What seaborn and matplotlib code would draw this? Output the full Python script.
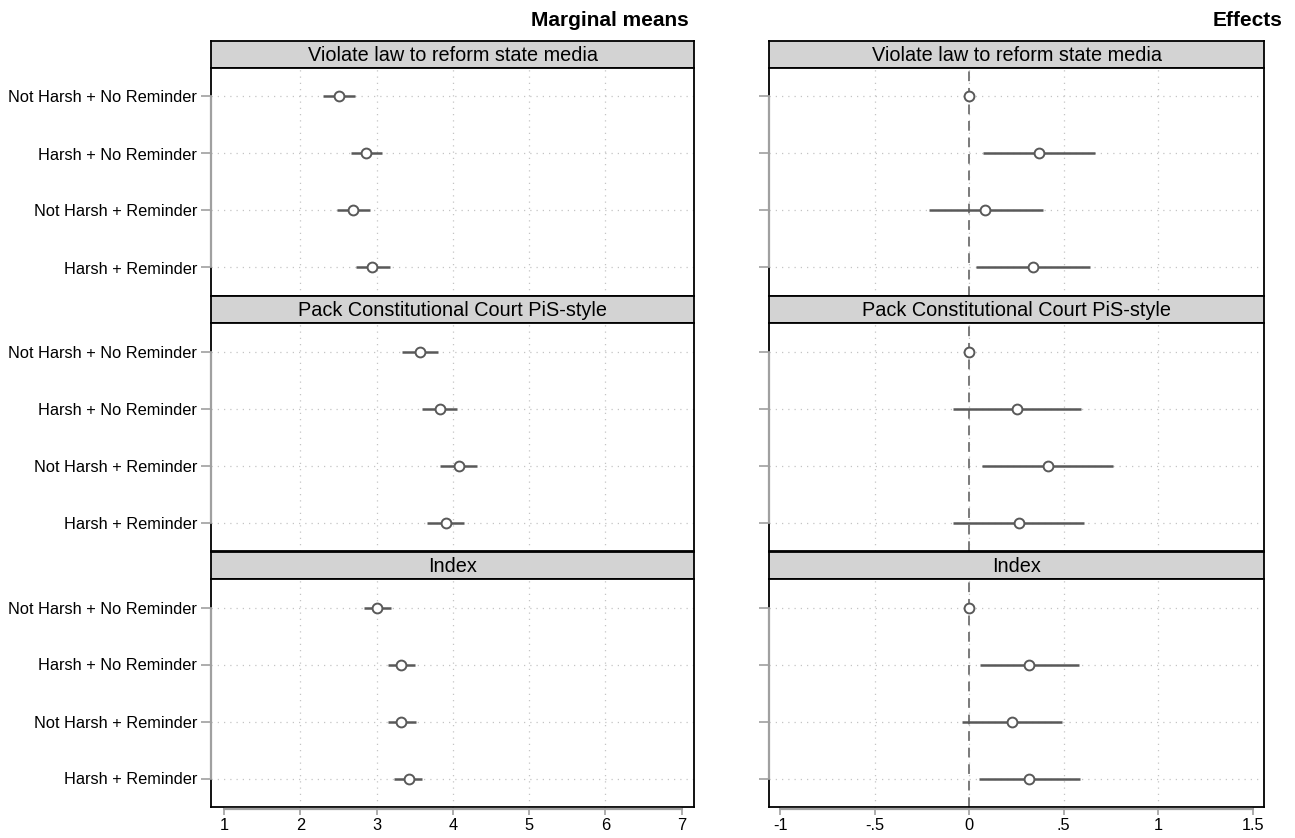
import matplotlib
matplotlib.use("Agg")
import matplotlib.pyplot as plt
import matplotlib.transforms as mtransforms
import seaborn as sns
import pandas as pd
import numpy as np

sns.set_theme(style="white")
plt.rcParams['font.family'] = ['Liberation Sans', 'DejaVu Sans']
plt.rcParams['text.color'] = 'black'
plt.rcParams['xtick.labelcolor'] = 'black'
plt.rcParams['ytick.labelcolor'] = 'black'

categories = ["Not Harsh + No Reminder", "Harsh + No Reminder",
              "Not Harsh + Reminder", "Harsh + Reminder"]
outcomes = ["Violate law to reform state media",
            "Pack Constitutional Court PiS-style", "Index"]

# Marginal means (estimate, lower CI, upper CI) per outcome
mm_media = [2.51, 2.86, 2.69, 2.94]
mm_media_lo = [2.30, 2.66, 2.48, 2.73]
mm_media_hi = [2.72, 3.07, 2.91, 3.17]
mm_court = [3.57, 3.83, 4.08, 3.91]
mm_court_lo = [3.33, 3.60, 3.83, 3.66]
mm_court_hi = [3.81, 4.06, 4.32, 4.15]
mm_index = [3.00, 3.32, 3.32, 3.42]
mm_index_lo = [2.83, 3.15, 3.15, 3.23]
mm_index_hi = [3.19, 3.51, 3.52, 3.60]

# Effects (estimate, lower CI, upper CI) relative to Not Harsh + No Reminder
ef_media = [0.0, 0.369, 0.085, 0.335]
ef_media_lo = [0.0, 0.072, -0.213, 0.034]
ef_media_hi = [0.0, 0.663, 0.388, 0.640]
ef_court = [0.0, 0.254, 0.415, 0.261]
ef_court_lo = [0.0, -0.085, 0.067, -0.086]
ef_court_hi = [0.0, 0.593, 0.762, 0.605]
ef_index = [0.0, 0.317, 0.228, 0.314]
ef_index_lo = [0.0, 0.057, -0.039, 0.050]
ef_index_hi = [0.0, 0.579, 0.492, 0.587]

mm_ticks = [1, 2, 3, 4, 5, 6, 7]
mm_ticklabels = ["1", "2", "3", "4", "5", "6", "7"]
ef_ticks = [-1, -0.5, 0, 0.5, 1, 1.5]
ef_ticklabels = ["-1", "-.5", "0", ".5", "1", "1.5"]

mm_data = [(mm_media, mm_media_lo, mm_media_hi),
           (mm_court, mm_court_lo, mm_court_hi),
           (mm_index, mm_index_lo, mm_index_hi)]
ef_data = [(ef_media, ef_media_lo, ef_media_hi),
           (ef_court, ef_court_lo, ef_court_hi),
           (ef_index, ef_index_lo, ef_index_hi)]

W, H = 1295, 838
fig = plt.figure(figsize=(W / 100, H / 100), dpi=100)

cols = [(211, 694, mm_data, mm_ticks, mm_ticklabels, (0.83, 7.16), True),
        (769, 1264, ef_data, ef_ticks, ef_ticklabels, (-1.06, 1.56), False)]
rows = [(41, 68, 296), (296, 323, 551), (552, 579, 807)]

pt_color = "#595959"
grid_color = "#c4c4c4"
axis_gray = "#a0a0a0"

for (x0, x1, data, ticks, ticklabels, xlim, show_labels) in cols:
    for r, (s_top, a_top, a_bot) in enumerate(rows):
        # strip
        sax = fig.add_axes([x0 / W, 1 - a_top / H, (x1 - x0) / W, (a_top - s_top) / H])
        sax.set_facecolor("#d3d3d3")
        sax.set_xticks([]); sax.set_yticks([])
        for sp in sax.spines.values():
            sp.set_color("black"); sp.set_linewidth(1.3)
        sax.text(0.5, 0.47, outcomes[r], ha="center", va="center", fontsize=14.3,
                 color="black", transform=sax.transAxes)

        ax = fig.add_axes([x0 / W, 1 - a_bot / H, (x1 - x0) / W, (a_bot - a_top) / H])
        est, lo, hi = data[r]
        df = pd.DataFrame({"category": categories, "pos": np.arange(len(categories)),
                           "est": est, "lo": lo, "hi": hi})

        # grid
        for t in ticks[1:-1]:
            ax.axvline(t, color=grid_color, lw=0.9, ls=(0, (1, 4)), zorder=0)
        for p in df["pos"]:
            ax.axhline(p, color=grid_color, lw=0.9, ls=(0, (1, 4)), zorder=0)

        if not show_labels:
            ax.axvline(0, color="#7a7a7a", lw=1.4, ls=(0, (5, 3.5)), zorder=1)

        ax.hlines(df["pos"], df["lo"], df["hi"], color=pt_color, lw=1.8, zorder=2)
        sns.scatterplot(data=df, x="est", y="pos", ax=ax, marker="o", s=50,
                        facecolor="white", edgecolor=pt_color, linewidth=1.4,
                        zorder=3, legend=False)

        ax.set_xlim(*xlim)
        ax.set_ylim(3.5, -0.5)
        ax.set_xlabel(""); ax.set_ylabel("")
        ax.set_yticks(df["pos"])
        if show_labels:
            ax.set_yticklabels(categories, fontsize=11.8)
        else:
            ax.set_yticklabels([])
        ax.tick_params(axis="y", length=7, width=1.2, color=axis_gray, pad=3, left=True)
        if r == 2:
            ax.set_xticks(ticks)
            ax.set_xticklabels(ticklabels, fontsize=11.8)
            ax.tick_params(axis="x", length=6, width=1.2, color=axis_gray, pad=2, bottom=True)
            trans = mtransforms.blended_transform_factory(ax.transData, ax.transAxes)
            ax.plot([ticks[0], ticks[-1]], [-0.007, -0.007], transform=trans,
                    color=axis_gray, lw=1.6, clip_on=False, zorder=5)
        else:
            ax.set_xticks([])
        for sp in ax.spines.values():
            sp.set_color("black"); sp.set_linewidth(1.3)
        trans_y = mtransforms.blended_transform_factory(ax.transAxes, ax.transData)
        ax.plot([0, 0], [0, 3], transform=trans_y, color=axis_gray, lw=1.6,
                clip_on=False, zorder=5)

fig.text(689 / W, 1 - 20 / H, "Marginal means", ha="right", va="center",
         fontsize=15, fontweight="bold", color="black")
fig.text(1282 / W, 1 - 20 / H, "Effects", ha="right", va="center",
         fontsize=15, fontweight="bold", color="black")

fig.savefig("out.png", dpi=100, facecolor="white")
